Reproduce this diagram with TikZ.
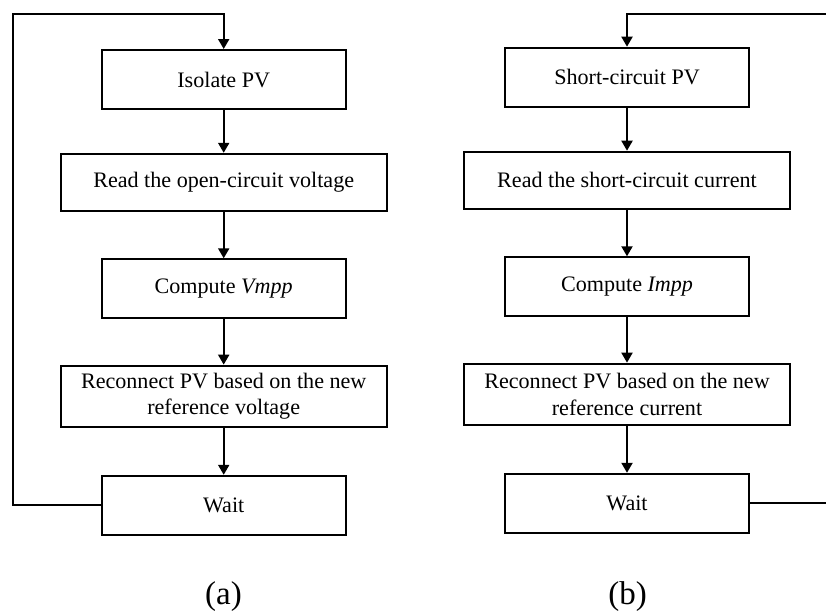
\documentclass[tikz,border=0pt]{standalone}
\usepackage{fontspec}
\setmainfont{Liberation Serif}
\usetikzlibrary{arrows.meta}
\begin{document}
\begin{tikzpicture}[x=1pt,y=-1pt,
  box/.style={draw=black,line width=2pt,fill=white,inner sep=0pt,align=center,
    font=\fontsize{22.1}{26.8}\selectfont},
  nbox/.style={box,minimum width=244pt,minimum height=59pt},
  wbox/.style={box,minimum width=325.7pt,minimum height=57pt},
  rbox/.style={box,minimum width=325.7pt,minimum height=61.3pt},
  flow/.style={line width=2pt,-{Triangle[length=10pt,width=11pt]}},
  sublabel/.style={font=\fontsize{33}{38}\selectfont}]
\useasboundingbox (0,0) rectangle (826,614);
\clip (0,0) rectangle (826,614);
% (a)
\node[nbox] (a1) at (223.7,79.5) {Isolate PV};
\node[wbox] (a2) at (223.7,182.3) {Read the open-circuit voltage};
\node[nbox] (a3) at (223.7,288.8) {Compute \textit{Vmpp}};
\node[rbox] (a4) at (223.7,396.3) {Reconnect PV based on the new\\reference voltage};
\node[nbox] (a5) at (223.7,505.3) {Wait};
\coordinate (aL) at (12.7,505.3);
\coordinate (aT) at (12.7,14);
\draw[flow] (a1) -- (a2);
\draw[flow] (a2) -- (a3);
\draw[flow] (a3) -- (a4);
\draw[flow] (a4) -- (a5);
\draw[flow] (a5.west) -- (aL) -- (aT) -| (a1.north);
\node[sublabel] (la) at (223.5,597) {(a)};
% (b)
\node[nbox] (b1) at (627,77.2) {Short-circuit PV};
\node[wbox] (b2) at (627,180.2) {Read the short-circuit current};
\node[nbox] (b3) at (627,286.8) {Compute \textit{Impp}};
\node[rbox] (b4) at (627,394.3) {Reconnect PV based on the new\\reference current};
\node[nbox] (b5) at (627,503.3) {Wait};
\coordinate (bR) at (834,503.3);
\coordinate (bT) at (834,14);
\draw[flow] (b1) -- (b2);
\draw[flow] (b2) -- (b3);
\draw[flow] (b3) -- (b4);
\draw[flow] (b4) -- (b5);
\draw[flow] (b5.east) -- (bR) -- (bT) -| (b1.north);
\node[sublabel] (lb) at (627.7,597) {(b)};
\end{tikzpicture}
\end{document}
